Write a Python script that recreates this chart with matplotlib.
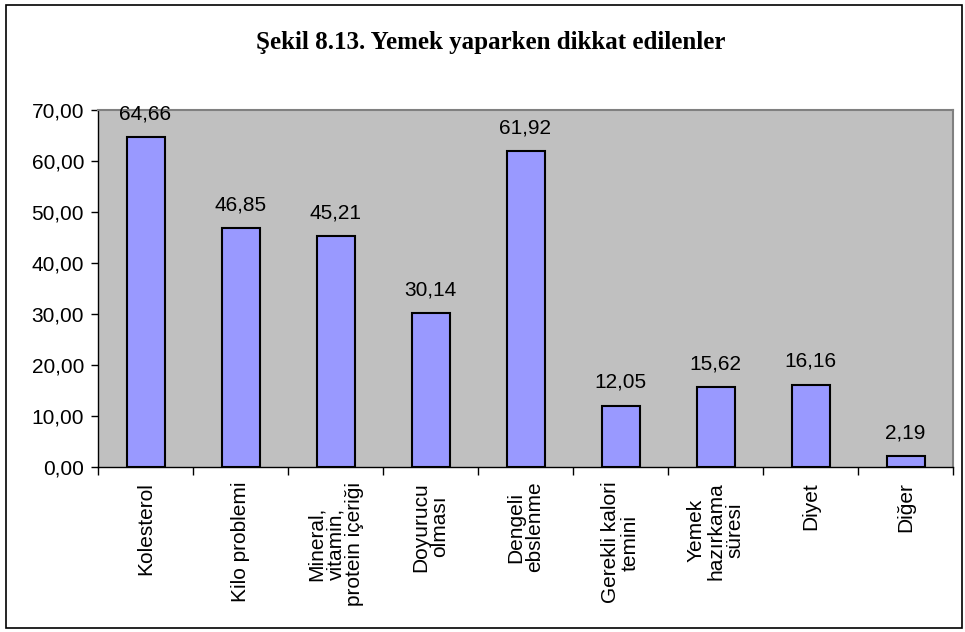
import matplotlib.pyplot as plt
from matplotlib.patches import Rectangle
import numpy as np

categories = ["Kolesterol", "Kilo problemi", "Mineral,\nvitamin,\nprotein içeriği",
              "Doyurucu\nolması", "Dengeli\nebslenme", "Gerekli kalori\ntemini",
              "Yemek\nhazırkama\nsüresi", "Diyet", "Diğer"]
values = [64.66, 46.85, 45.21, 30.14, 61.92, 12.05, 15.62, 16.16, 2.19]
yticks = [0, 10, 20, 30, 40, 50, 60, 70]

plt.rcParams['font.family'] = ['Liberation Sans', 'DejaVu Sans']

fig = plt.figure(figsize=(9.65, 6.32), dpi=100)
fig.patches.append(Rectangle((6 / 965, 4 / 632), 956 / 965, 623 / 632,
                             transform=fig.transFigure, fill=False,
                             edgecolor='black', linewidth=1.2))

ax = fig.add_axes([98 / 965, 1 - 467 / 632, 855 / 965, 357 / 632])
ax.set_facecolor('#C0C0C0')

x = np.arange(len(categories))
ax.bar(x, values, width=0.4, color='#9999FF', edgecolor='black', linewidth=1.5)
for xi, v in zip(x, values):
    ax.text(xi, v + 2.7, f"{v:.2f}".replace('.', ','), ha='center', va='bottom', fontsize=15)

ax.set_xlim(-0.5, len(categories) - 0.5)
ax.set_ylim(0, 70)
ax.set_yticks(yticks)
ax.set_yticklabels([f"{t:.2f}".replace('.', ',') for t in yticks], fontsize=15)
ax.tick_params(axis='y', length=5, width=1, direction='out', pad=5)

# category ticks sit between the bars
ax.set_xticks(np.arange(len(categories) + 1) - 0.5)
ax.set_xticklabels([])
ax.tick_params(axis='x', length=6, width=1, direction='out')
for xi, name in zip(x, categories):
    ax.text(xi, -2.9, name, rotation=90, ha='center', va='top',
            multialignment='center', fontsize=15, linespacing=1.0)

ax.spines['left'].set_linewidth(1)
ax.spines['bottom'].set_linewidth(1)
ax.spines['top'].set_color('#808080')
ax.spines['right'].set_color('#808080')
ax.spines['top'].set_linewidth(1.5)
ax.spines['right'].set_linewidth(1.5)

fig.text(491 / 965, 1 - 42 / 632, "Şekil 8.13. Yemek yaparken dikkat edilenler",
         ha='center', va='center', fontsize=18, fontweight='bold',
         family=['Liberation Serif', 'DejaVu Serif'])

fig.savefig('out.png', dpi=100)
